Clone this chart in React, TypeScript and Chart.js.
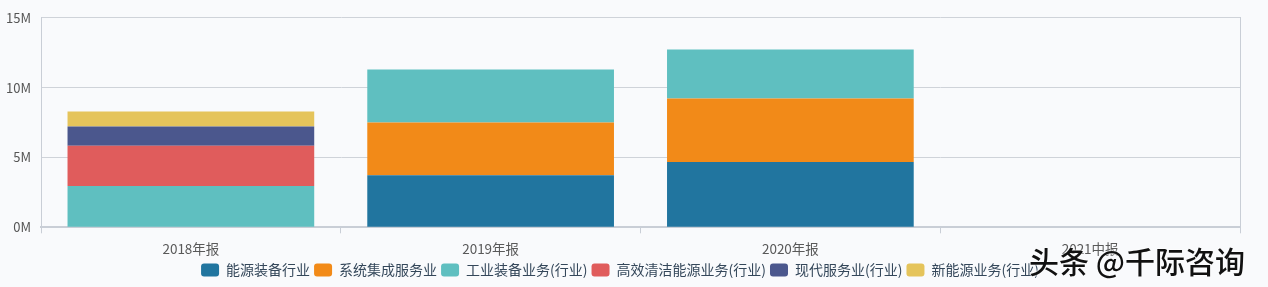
import React, { useEffect, useRef } from "react";
import { Chart, registerables } from "chart.js";

Chart.register(...registerables);

const categories = ["2018年报", "2019年报", "2020年报", "2021中报"];
const seriesNames = [
  "能源装备行业",
  "系统集成服务业",
  "工业装备业务(行业)",
  "高效清洁能源业务(行业)",
  "现代服务业(行业)",
  "新能源业务(行业)",
];
const energyEquipment = [null, 3.73e6, 4.67e6, null];
const systemIntegration = [null, 3.78e6, 4.56e6, null];
const industrialEquipment = [2.96e6, 3.78e6, 3.5e6, null];
const cleanEnergy = [2.88e6, null, null, null];
const modernService = [1.38e6, null, null, null];
const newEnergy = [1.08e6, null, null, null];
const seriesValues = [
  energyEquipment,
  systemIntegration,
  industrialEquipment,
  cleanEnergy,
  modernService,
  newEnergy,
];
const seriesColors = ["#21759f", "#f28a18", "#5fbfc0", "#e05c5c", "#4b578d", "#e5c45b"];
const yTicks = [0, 5e6, 10e6, 15e6];

const FONT = "'Noto Sans CJK SC', 'Noto Sans', sans-serif";
const BG = "#f9fafc";

export default function App() {
  const ref = useRef<HTMLCanvasElement | null>(null);

  useEffect(() => {
    document.body.style.margin = "0";
    document.body.style.background = BG;
    const ctx = ref.current!.getContext("2d")!;
    const chart = new Chart(ctx, {
      type: "bar",
      data: {
        labels: categories,
        datasets: seriesNames.map((name, i) => ({
          label: name,
          data: seriesValues[i],
          backgroundColor: seriesColors[i],
          borderWidth: 0,
          barPercentage: 0.823,
          categoryPercentage: 1,
        })),
      },
      options: {
        animation: false,
        responsive: false,
        maintainAspectRatio: false,
        layout: { padding: { top: 12, right: 28, left: 0, bottom: 0 } },
        plugins: {
          tooltip: { enabled: false },
          legend: {
            position: "bottom",
            labels: {
              font: { family: FONT, size: 14 },
              color: "#34475a",
              boxWidth: 18,
              boxHeight: 13,
              useBorderRadius: true,
              borderRadius: 3,
              padding: 4,
            },
          },
        },
        scales: {
          x: {
            stacked: true,
            grid: {
              offset: true,
              drawOnChartArea: false,
              drawTicks: true,
              tickLength: 6,
              color: "#c9ced6",
            },
            border: { color: "#c9ced6", width: 2 },
            ticks: {
              font: { family: FONT, size: 13.5, lineHeight: 0.2 },
              color: "#595959",
              padding: 14,
            },
            afterFit: (s: any) => {
              s.height = s.height - 5;
            },
          },
          y: {
            stacked: true,
            min: 0,
            max: 15e6,
            afterBuildTicks: (s: any) => {
              s.ticks = yTicks.map((v) => ({ value: v }));
            },
            afterFit: (s: any) => {
              s.width = 41;
            },
            grid: { color: "#cfd3d9", drawTicks: false },
            border: { color: "#c9ced6", width: 1 },
            ticks: {
              font: { family: FONT, size: 13 },
              color: "#555555",
              padding: 10,
              callback: (v: any) => `${Number(v) / 1e6}M`,
            },
          },
          y2: {
            position: "right",
            display: true,
            grid: { drawOnChartArea: false, drawTicks: false },
            border: { color: "#c9ced6", width: 1 },
            ticks: { display: false },
            afterFit: (s: any) => {
              s.width = 0;
            },
          },
        },
      },
    });
    return () => chart.destroy();
  }, []);

  return (
    <div style={{ position: "relative", width: 1268, height: 287, background: BG }}>
      <canvas ref={ref} width={1268} height={287} style={{ display: "block" }} />
      <div
        style={{
          position: "absolute",
          left: 1029,
          top: 240,
          fontFamily: FONT,
          fontSize: 30,
          fontWeight: 500,
          color: "#111",
          letterSpacing: 0,
          textShadow: "0 0 2px #fff, 0 0 2px #fff",
          whiteSpace: "nowrap",
          lineHeight: "40px",
        }}
      >
        头条 @千际咨询
      </div>
    </div>
  );
}
